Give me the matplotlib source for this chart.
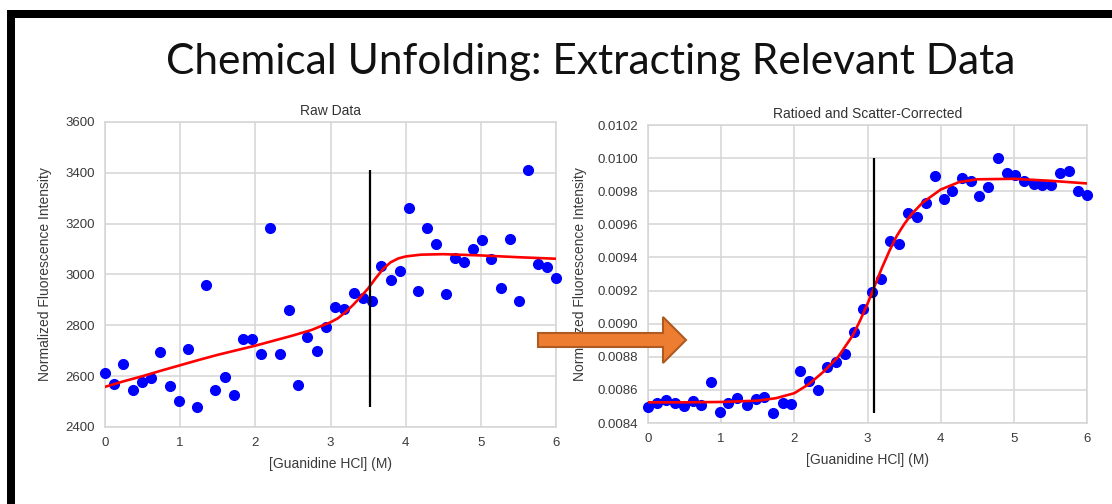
import matplotlib
matplotlib.use('Agg')
import matplotlib.pyplot as plt
from matplotlib.patches import Rectangle, Polygon
from matplotlib.ticker import FormatStrFormatter

# guanidine concentration (M), 50 titration points
conc = [0.00, 0.12, 0.24, 0.37, 0.49, 0.61, 0.73, 0.86, 0.98, 1.10,
        1.22, 1.35, 1.47, 1.59, 1.71, 1.84, 1.96, 2.08, 2.20, 2.33,
        2.45, 2.57, 2.69, 2.82, 2.94, 3.06, 3.18, 3.31, 3.43, 3.55,
        3.67, 3.80, 3.92, 4.04, 4.16, 4.29, 4.41, 4.53, 4.65, 4.78,
        4.90, 5.02, 5.14, 5.27, 5.39, 5.51, 5.63, 5.76, 5.88, 6.00]

# raw fluorescence
raw = [2614, 2569, 2648, 2547, 2578, 2592, 2694, 2563, 2504, 2708,
       2477, 2959, 2547, 2598, 2527, 2746, 2746, 2686, 3182, 2686,
       2860, 2567, 2754, 2698, 2794, 2872, 2864, 2927, 2908, 2894,
       3033, 2978, 3012, 3263, 2935, 3182, 3121, 2923, 3065, 3048,
       3100, 3136, 3061, 2947, 3140, 2896, 3411, 3043, 3030, 2986]

# ratioed + scatter corrected
corr = [0.008497, 0.008521, 0.008539, 0.008521, 0.008501, 0.008535, 0.008511, 0.008649, 0.008464, 0.008521,
        0.008553, 0.008511, 0.008543, 0.008559, 0.008460, 0.008521, 0.008515, 0.008714, 0.008656, 0.008597,
        0.008738, 0.008768, 0.008818, 0.008947, 0.009088, 0.009189, 0.009267, 0.009500, 0.009482, 0.009668,
        0.009647, 0.009726, 0.009889, 0.009756, 0.009804, 0.009879, 0.009859, 0.009774, 0.009825, 0.010000,
        0.009909, 0.009895, 0.009863, 0.009843, 0.009839, 0.009839, 0.009913, 0.009925, 0.009804, 0.009778]

# fitted curves
fit_raw_x = [0, 0.25, 0.5, 0.75, 1.0, 1.25, 1.5, 1.75, 2.0, 2.25, 2.5, 2.75, 3.0,
             3.1, 3.2, 3.3, 3.4, 3.5, 3.6, 3.7, 3.8, 3.9, 4.0, 4.2, 4.5, 5.0, 5.5, 6.0]
fit_raw_y = [2558, 2580, 2600, 2622, 2643, 2664, 2684, 2702, 2720, 2740, 2760, 2782, 2812,
             2828, 2852, 2880, 2912, 2945, 2985, 3022, 3048, 3063, 3071, 3078, 3080, 3075, 3068, 3062]

fit_corr_x = [0, 0.5, 1.0, 1.5, 1.75, 2.0, 2.2, 2.4, 2.6, 2.8, 2.9, 3.0, 3.1, 3.2,
              3.3, 3.4, 3.5, 3.6, 3.75, 4.0, 4.25, 4.5, 5.0, 5.5, 6.0]
fit_corr_y = [0.008525, 0.008525, 0.008527, 0.008535, 0.008550, 0.008580, 0.008635, 0.008710,
              0.008800, 0.008930, 0.009020, 0.009120, 0.009230, 0.009340, 0.009440, 0.009530,
              0.009600, 0.009660, 0.009730, 0.009810, 0.009855, 0.009872, 0.009875, 0.009863, 0.009847]

# midpoint markers
mid_raw = 3.53
mid_raw_span = (2480, 3410)
mid_corr = 3.09
mid_corr_span = (0.00846, 0.0100)

plt.rcParams['font.family'] = ['Liberation Sans', 'DejaVu Sans']

fig = plt.figure(figsize=(11.12, 5.04), dpi=100)
fig.patch.set_facecolor('white')


def style(ax):
    ax.set_facecolor('white')
    ax.grid(True, color='#d5d5d5', lw=1.1)
    ax.set_axisbelow(True)
    for s in ax.spines.values():
        s.set_color('#d5d5d5')
        s.set_linewidth(1.1)
    ax.tick_params(length=0, pad=7, labelsize=9.5, colors='#3a3a3a')
    ax.set_xlim(0, 6)


ax1 = fig.add_axes([105/1112, 1-427/504, 451/1112, 305/504])
style(ax1)
ax1.plot(conc, raw, 'o', color='#0000ff', ms=7, zorder=3, clip_on=False)
ax1.plot(fit_raw_x, fit_raw_y, color='#ff0000', lw=1.9, zorder=4)
ax1.vlines(mid_raw, *mid_raw_span, color='black', lw=1.6, zorder=5)
ax1.set_ylim(2400, 3600)
ax1.set_yticks(range(2400, 3601, 200))
ax1.set_title('Raw Data', fontsize=10, color='#333333', pad=5)
ax1.set_xlabel('[Guanidine HCl] (M)', fontsize=10, color='#3a3a3a', labelpad=6)
ax1.set_ylabel('Normalized Fluorescence Intensity', fontsize=10, color='#3a3a3a', labelpad=10)

ax2 = fig.add_axes([648/1112, 1-423/504, 439/1112, 298/504])
style(ax2)
ax2.plot(conc, corr, 'o', color='#0000ff', ms=7, zorder=3, clip_on=False)
ax2.plot(fit_corr_x, fit_corr_y, color='#ff0000', lw=1.9, zorder=4)
ax2.vlines(mid_corr, *mid_corr_span, color='black', lw=1.6, zorder=5)
ax2.set_ylim(0.0084, 0.0102)
ax2.set_yticks([0.0084 + 0.0002*i for i in range(10)])
ax2.yaxis.set_major_formatter(FormatStrFormatter('%.4f'))
ax2.set_title('Ratioed and Scatter-Corrected', fontsize=10, color='#333333', pad=5)
ax2.set_xlabel('[Guanidine HCl] (M)', fontsize=10, color='#3a3a3a', labelpad=6)
ax2.set_ylabel('Normalized Fluorescence Intensity', fontsize=10, color='#3a3a3a', labelpad=8)

# slide title
fig.text(591/1112, 1-62/504, 'Chemical Unfolding: Extracting Relevant Data',
         ha='center', va='center', fontsize=30.5, family=['Lato', 'DejaVu Sans'], color='#111111')

# slide frame
W, H = 1112, 504
fig.patches.append(Rectangle((7/W, 1-18/H), 1-7/W, 8/H, transform=fig.transFigure,
                             facecolor='black', edgecolor='none', zorder=10))
fig.patches.append(Rectangle((7/W, 0), 8/W, 1-10/H, transform=fig.transFigure,
                             facecolor='black', edgecolor='none', zorder=10))

# orange arrow
pts = [(538, 333), (663, 333), (663, 317), (686, 340), (663, 363), (663, 347), (538, 347)]
fig.patches.append(Polygon([(x/W, 1-y/H) for x, y in pts], closed=True, transform=fig.transFigure,
                           facecolor='#ed7d31', edgecolor='#ae5a21', lw=1.5, zorder=10))

fig.savefig('out.png', dpi=100)
